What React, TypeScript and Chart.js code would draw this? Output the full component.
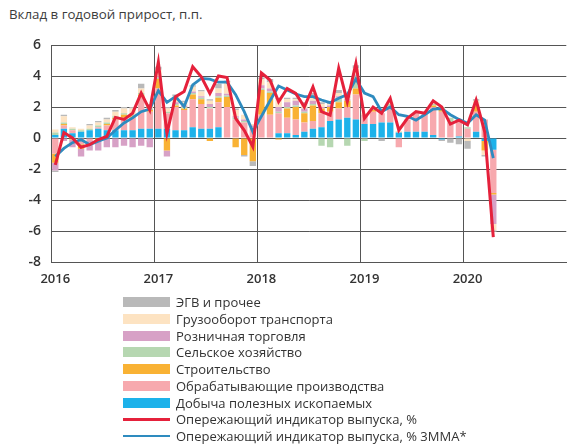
import React, { useEffect, useRef } from 'react';
import { Chart, registerables } from 'chart.js';

Chart.register(...registerables);

// ---- Data ----
const YEARS = ['2016', '2017', '2018', '2019', '2020'];
const CATEGORIES = YEARS.flatMap((y) =>
  Array.from({ length: 12 }, (_, m) => `${y}-${String(m + 1).padStart(2, '0')}`)
);

const DOBYCHA = [
  0.2, 0.6, 0.3, 0.4, 0.5, 0.6, 0.5, 0.5, 0.5, 0.5, 0.6, 0.6,
  0.6, 0.6, 0.5, 0.5, 0.7, 0.6, 0.6, 0.7, 0, 0, 0, 0,
  0, 0, 0.3, 0.3, 0.2, 0.4, 0.6, 0.7, 1.1, 1.2, 1.3, 1.2,
  0.9, 0.9, 1.0, 1.0, 0.35, 0.4, 0.4, 0.4, 0.2, -0.1, 0.0, 0.1,
  0.0, 0.4, -0.2, -0.75,
];
const OBRAB = [
  -1.0, 0.2, 0.2, -0.4, -0.2, 0.1, 0.3, 0.7, 0.8, 0.8, 2.0, 1.1,
  2.6, 1.0, 1.5, 1.3, 1.8, 1.6, 1.3, 1.6, 2.0, 1.2, 1.0, 0.6,
  1.5, 1.5, 1.3, 1.0, 1.0, 0.6, 0.5, 0.9, 0.6, 0.7, 0.7, 1.6,
  0.6, 0.8, 0.6, 0.9, -0.6, 0.8, 1.2, 1.3, 1.8, 1.7, 1.0, 1.0,
  0.6, 1.3, 1.2, -2.8,
];
const STROIT = [
  -0.6, 0.1, -0.1, -0.3, 0, -0.2, 0.1, 0.1, 0.2, 0.1, 0.2, 0.1,
  0.6, -0.8, 0.1, 0.1, 0.3, 0.3, -0.2, 0.3, 0.65, -0.6, -1.1, -1.5,
  1.6, 1.4, -0.1, 0.6, 0.8, 0.6, 1.0, 0.3, 0.3, 0.4, 0.4, 0.4,
  0.0, 0.1, 0.0, 0.1, 0.0, 0.0, 0.0, 0.0, 0.1, 0.1, 0.0, 0.0,
  0.0, 0.4, -0.6, -0.1,
];
const SELSKOE = [
  0.15, 0.1, 0.1, 0.1, 0.1, 0.1, 0.1, 0.1, 0.1, 0.1, 0.1, 0.1,
  0.1, 0.1, 0.1, 0.1, 0.1, 0.1, 0.1, 0.1, 0.1, 0.1, 0.1, 0.1,
  0.1, 0.1, 0.1, 0.1, 0.1, 0.1, 0.1, -0.5, -0.6, 0.3, -0.5, 0.8,
  -0.2, 0.1, 0.0, 0.2, 0.0, 0.0, 0.0, 0.0, 0.1, 0.2, 0.3, 0.0,
  0.1, 0.0, 0.0, 0.0,
];
const ROZNICA = [
  -0.5, -0.2, -0.5, -0.5, -0.6, -0.6, -0.6, -0.6, -0.5, -0.6, -0.5, -0.6,
  0.1, -0.4, 0.1, 0.1, 0.1, 0.1, 0.2, 0.2, 0.1, 0.1, 0.1, 0.1,
  0.2, 0.2, 0.3, 0.3, 0.3, 0.2, 0.2, 0.1, 0.1, 0.1, 0.1, 0.1,
  0.0, 0.0, 0.0, 0.0, 0.0, 0.0, 0.0, 0.0, 0.0, 0.0, 0.0, 0.0,
  0.0, 0.0, 0.0, -1.9,
];
const GRUZ = [
  0.2, 0.4, 0.1, 0.1, 0.2, 0.2, 0.2, 0.3, 0.3, 0.4, 0.3, 0.2,
  0.4, 0.2, 0.4, 0.2, 0.3, 0.3, 0.2, 0.3, 0.75, 0.4, 0.3, 0.1,
  0.4, 0.4, 0.5, 0.2, 0.1, 0.3, 0.3, 0.2, 0.1, 0.2, 0.1, 0.4,
  0.1, 0.1, 0.0, 0.1, 0.1, 0.0, 0.0, 0.0, 0.1, 0.0, 0.0, 0.0,
  -0.2, 0.3, -0.3, -0.4,
];
const EGV = [
  -0.1, 0.1, 0.0, 0.0, 0.1, 0.1, 0.1, 0.1, 0.1, 0.1, 0.3, 0.1,
  0.2, 0.1, 0.1, 0.1, 0.1, 0.1, 0.1, 0.3, 0.1, 0.1, -0.1, -0.3,
  0.1, 0.2, 0.1, 0.1, 0.1, 0.1, 0.2, 0.1, 0.1, 0.2, 0.1, 0.2,
  0.0, 0.0, -0.2, 0.0, 0.0, 0.0, 0.0, 0.0, 0.0, -0.1, -0.3, -0.4,
  -0.5, 0.1, -0.1, -0.1,
];
const INDICATOR = [
  -1.74, 0.35, 0.0, -0.6, -0.43, -0.1, 0.1, 1.33, 1.2, 1.6, 2.9, 1.8,
  4.9, 0.3, 2.67, 3.0, 4.6, 3.95, 2.88, 4.0, 3.9, 1.27, 0.5, -0.56,
  4.2, 3.74, 2.34, 3.2, 2.88, 2.0, 3.3, 1.7, 1.48, 4.5, 2.34, 4.8,
  1.27, 2.0, 1.6, 2.56, 0.5, 1.27, 1.7, 1.6, 2.4, 2.0, 0.9, 1.15,
  0.85, 2.45, 0.4, -6.4,
];
const INDICATOR_3MMA = [
  -1.2, -0.67, -0.3, -0.1, -0.43, -0.2, 0.0, 0.5, 0.97, 1.3, 1.7, 1.87,
  3.05, 2.3, 2.67, 2.03, 3.42, 3.85, 3.8, 3.6, 3.6, 2.8, 1.7, 0.4,
  1.4, 2.4, 3.35, 3.1, 2.84, 2.67, 2.67, 2.45, 2.28, 2.56, 2.8, 3.8,
  2.9, 2.67, 1.7, 2.0, 1.5, 1.4, 1.15, 1.5, 1.87, 1.9, 1.5, 1.2,
  0.95, 1.5, 1.15, -1.3,
];

const Y_TICKS = [-8, -6, -4, -2, 0, 2, 4, 6];

const TITLE = 'Вклад в годовой прирост, п.п.';

const BAR_SERIES = [
  { label: 'Добыча полезных ископаемых', data: DOBYCHA, color: '#1db2ea' },
  { label: 'Обрабатывающие производства', data: OBRAB, color: '#f7a9ae' },
  { label: 'Строительство', data: STROIT, color: '#f9b234' },
  { label: 'Сельское хозяйство', data: SELSKOE, color: '#b6d7b1' },
  { label: 'Розничная торговля', data: ROZNICA, color: '#d7a1c6' },
  { label: 'Грузооборот транспорта', data: GRUZ, color: '#fde3c2' },
  { label: 'ЭГВ и прочее', data: EGV, color: '#b9b9b9' },
];
const LINE_SERIES = [
  { label: 'Опережающий индикатор выпуска, %', data: INDICATOR, color: '#e5213b', width: 3 },
  { label: 'Опережающий индикатор выпуска, % 3ММА*', data: INDICATOR_3MMA, color: '#2e8bbf', width: 2.8 },
];

const FONT = '"Open Sans", "Noto Sans", sans-serif';
const GRID = '#555555';
const TEXT = '#333333';

const pad = (arr: number[]) => CATEGORIES.map((_, i) => (i < arr.length ? arr[i] : null));

export default function App() {
  const ref = useRef<HTMLCanvasElement | null>(null);

  useEffect(() => {
    if (!ref.current) return;
    const chart = new Chart(ref.current, {
      type: 'bar',
      data: {
        labels: CATEGORIES,
        datasets: [
          ...LINE_SERIES.map((s, k) => ({
            type: 'line' as const,
            label: s.label,
            data: pad(s.data),
            borderColor: s.color,
            backgroundColor: s.color,
            borderWidth: s.width,
            pointRadius: 0,
            tension: 0,
            fill: false,
            order: k,
            stack: 'line' + k,
          })),
          ...BAR_SERIES.map((s) => ({
            type: 'bar' as const,
            label: s.label,
            data: pad(s.data),
            backgroundColor: s.color,
            borderWidth: 0,
            categoryPercentage: 1,
            barPercentage: 0.74,
            order: 5,
            stack: 'bars',
          })),
        ],
      },
      options: {
        responsive: false,
        animation: false,
        layout: { padding: { top: 45, right: 0, left: 0, bottom: 0 } },
        plugins: { legend: { display: false }, tooltip: { enabled: false } },
        scales: {
          x: {
            stacked: true,
            offset: true,
            grid: {
              offset: true,
              drawTicks: false,
              color: (ctx: any) =>
                typeof ctx.index === 'number' && ctx.index % 12 === 0 ? GRID : 'rgba(0,0,0,0)',
            },
            border: { display: true, color: GRID },
            ticks: {
              autoSkip: false,
              maxRotation: 0,
              minRotation: 0,
              padding: 9,
              color: TEXT,
              font: { family: FONT, size: 13, weight: '600' },
              callback: (_v: any, i: number) => (i % 12 === 0 ? CATEGORIES[i].slice(0, 4) : ''),
            },
            afterFit: (s: any) => {
              s.height = 38;
            },
          },
          y: {
            stacked: true,
            min: Y_TICKS[0],
            max: Y_TICKS[Y_TICKS.length - 1],
            afterBuildTicks: (s: any) => {
              s.ticks = Y_TICKS.map((v) => ({ value: v }));
            },
            grid: { color: GRID, drawTicks: false },
            border: { display: true, color: GRID },
            ticks: {
              padding: 10,
              color: TEXT,
              font: { family: FONT, size: 14, weight: '600' },
            },
            afterFit: (s: any) => {
              s.width = 51;
            },
          },
        },
      },
    } as any);
    return () => chart.destroy();
  }, []);

  const legendRows = [
    ...[...BAR_SERIES].reverse().map((s) => ({ label: s.label, color: s.color, line: false })),
    ...LINE_SERIES.map((s) => ({ label: s.label, color: s.color, line: true })),
  ];

  return (
    <div
      style={{
        position: 'absolute',
        left: 0,
        top: 0,
        width: 568,
        height: 448,
        overflow: 'hidden',
        background: '#fff',
        fontFamily: FONT,
      }}
    >
      <div
        style={{
          position: 'absolute',
          left: 9,
          top: 5,
          fontSize: 13.3,
          color: '#3c3c3c',
          whiteSpace: 'nowrap',
        }}
      >
        {TITLE}
      </div>
      <canvas
        ref={ref}
        width={571}
        height={300}
        style={{ position: 'absolute', left: 0, top: 0, width: 571, height: 300 }}
      />
      {legendRows.map((r, i) => (
        <div
          key={r.label}
          style={{
            position: 'absolute',
            left: 123,
            top: 302 + i * 16.75 - 9,
            height: 18,
            display: 'flex',
            alignItems: 'center',
            whiteSpace: 'nowrap',
          }}
        >
          <div
            style={{
              width: 47,
              height: r.line ? 2.5 : 10,
              background: r.color,
              marginRight: 6,
            }}
          />
          <span style={{ fontSize: 13, color: '#333', lineHeight: '18px' }}>{r.label}</span>
        </div>
      ))}
    </div>
  );
}
